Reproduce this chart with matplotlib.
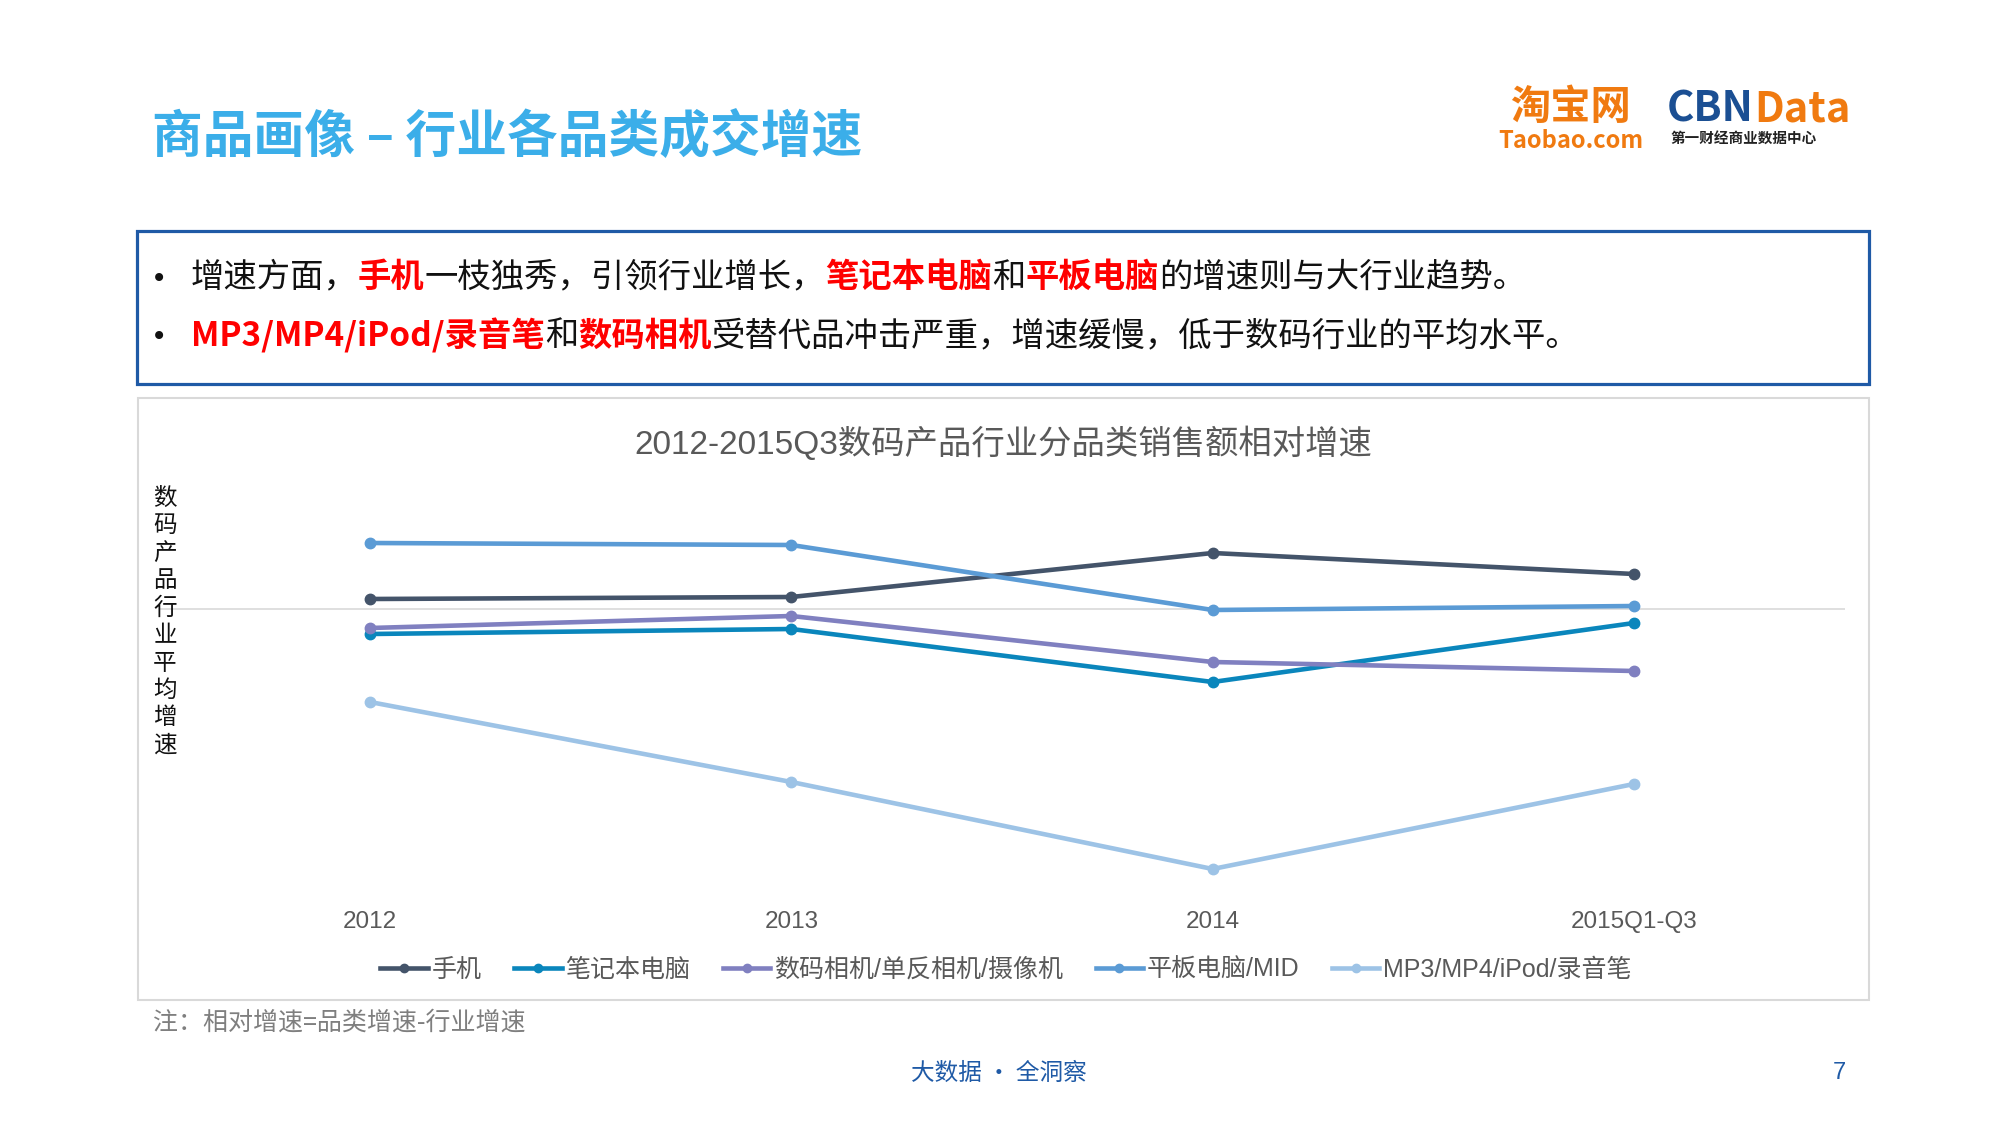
import matplotlib
matplotlib.use("Agg")
import matplotlib.pyplot as plt
from matplotlib.patches import Rectangle
from matplotlib.lines import Line2D

plt.rcParams['font.family'] = ['Noto Sans CJK SC', 'DejaVu Sans']

W, H = 2000, 1125

# data (relative growth vs. industry average, arbitrary units)
years = ["2012", "2013", "2014", "2015Q1-Q3"]
series_names = ["手机", "笔记本电脑", "数码相机/单反相机/摄像机", "平板电脑/MID", "MP3/MP4/iPod/录音笔"]
phone = [10, 12, 56, 35]
laptop = [-25, -20, -73, -14]
camera = [-19, -7, -53, -62]
tablet = [66, 64, -1, 3]
mp3 = [-93, -173, -260, -175]
colors = ["#44546A", "#0A86BC", "#8080C0", "#5B9BD5", "#9DC3E6"]

chart_font = ['Liberation Sans', 'Noto Sans CJK SC']


def fx(x):
    return x / W


def fy(y):
    return 1 - y / H


fig = plt.figure(figsize=(20, 11.25), dpi=100)
fig.patch.set_facecolor("white")
r = fig.canvas.get_renderer()


def rich(x, y, parts, size, va="center"):
    # draw text pieces one after another on a line
    for s, c, w in parts:
        t = fig.text(fx(x), fy(y), s, color=c, fontsize=size, fontweight=w,
                     va=va, ha="left")
        x += t.get_window_extent(renderer=r).width
    return x


# page title
fig.text(fx(152), fy(137), "商品画像 – 行业各品类成交增速", color="#3BAEE9",
         fontsize=36.5, fontweight="bold", va="center", ha="left")

# logos
fig.text(fx(1570), fy(107), "淘宝网", color="#F07A10", fontsize=29,
         fontweight="bold", ha="center", va="center")
fig.text(fx(1571), fy(141), "Taobao.com", color="#F07A10", fontsize=17,
         fontweight="bold", ha="center", va="center")
rich(1667, 110, [("CBN", "#1B4F93", "bold"), ("Data", "#F07A10", "bold")], 30)
fig.text(fx(1744), fy(139), "第一财经商业数据中心", color="#222222", fontsize=10.5,
         fontweight="bold", ha="center", va="center")

# bullet box
fig.patches.append(Rectangle((fx(137), fy(384)), fx(1869) - fx(137), fy(231) - fy(384),
                             transform=fig.transFigure, fill=False,
                             edgecolor="#1F5AA6", lw=2.3))
red = "#FF0000"
blk = "#111111"
fig.text(fx(159), fy(279), "•", color=blk, fontsize=20, ha="center", va="center",
         family="DejaVu Sans")
fig.text(fx(159), fy(337), "•", color=blk, fontsize=20, ha="center", va="center",
         family="DejaVu Sans")
rich(191, 277, [("增速方面，", blk, "normal"), ("手机", red, "bold"),
                ("一枝独秀，引领行业增长，", blk, "normal"), ("笔记本电脑", red, "bold"),
                ("和", blk, "normal"), ("平板电脑", red, "bold"),
                ("的增速则与大行业趋势。", blk, "normal")], 24)
rich(191, 336, [("MP3/MP4/iPod/录音笔", red, "bold"), ("和", blk, "normal"),
                ("数码相机", red, "bold"),
                ("受替代品冲击严重，增速缓慢，低于数码行业的平均水平。", blk, "normal")], 24)

# chart panel
fig.patches.append(Rectangle((fx(138), fy(1000)), fx(1869) - fx(138), fy(398) - fy(1000),
                             transform=fig.transFigure, fill=False,
                             edgecolor="#D9D9D9", lw=1.5))
fig.text(fx(1003), fy(444), "2012-2015Q3数码产品行业分品类销售额相对增速",
         color="#595959", fontsize=24, ha="center", va="center", family=chart_font)

ax = fig.add_axes([fx(159.4), fy(900), fx(1844.6) - fx(159.4), fy(500) - fy(900)])
ax.set_xlim(-0.5, 3.5)
ax.set_ylim(-291, 109)
ax.axhline(0, color="#D9D9D9", lw=1.2, zorder=1)
x = range(len(years))
handles = []
for vals, name, c in zip([phone, laptop, camera, tablet, mp3], series_names, colors):
    ax.plot(x, vals, color=c, lw=3.3, marker="o", markersize=7.5, zorder=3)
    handles.append(Line2D([0], [0], color=c, lw=3.3, marker="o", markersize=6, label=name))
ax.set_xticks(list(x))
ax.set_xticklabels(years, fontsize=17.5, color="#595959", family=chart_font)
ax.tick_params(axis="x", length=0, pad=8)
ax.set_yticks([])
for sp in ax.spines.values():
    sp.set_visible(False)
ax.patch.set_alpha(0)

# vertical y label
ylab = "数码产品行业平均增速"
for i, ch in enumerate(ylab):
    fig.text(fx(165), fy(498 + i * 27.5), ch, color="#111111", fontsize=17,
             ha="center", va="center")

leg = fig.legend(handles=handles, loc="center", bbox_to_anchor=(fx(1006), fy(970)),
                 ncol=5, frameon=False, fontsize=18, handlelength=1.9,
                 handletextpad=0.15, columnspacing=1.3,
                 prop={"family": chart_font, "size": 18})
for t in leg.get_texts():
    t.set_color("#595959")

# notes / footer
fig.text(fx(153), fy(1023), "注：相对增速=品类增速-行业增速", color="#7F7F7F",
         fontsize=18, ha="left", va="center")
fig.text(fx(999), fy(1073), "大数据 · 全洞察", color="#1F5AA6", fontsize=17,
         ha="center", va="center")
fig.text(fx(1839), fy(1073), "7", color="#1F5AA6", fontsize=17, ha="center", va="center",
         family=chart_font)

fig.savefig("out.png", dpi=100, facecolor="white")
